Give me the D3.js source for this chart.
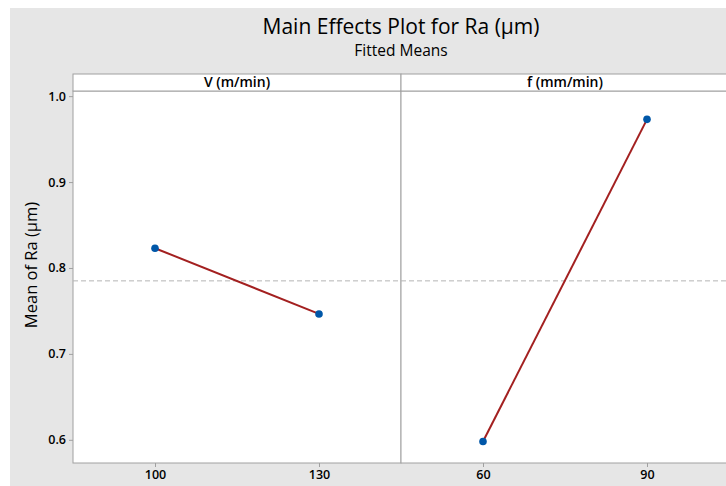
<!DOCTYPE html>
<html lang="en">
  <head>
    <meta charset="UTF-8" />
    <title>Main Effects Plot for Ra</title>
    <style>
      body {
        margin: 0;
        padding: 0;
        background-color: #ffffff;
      }
      svg {
        display: block;
        font-family: "Open Sans", "Noto Sans", sans-serif;
      }
    </style>
  </head>
  <body>
    <div id="plot"></div>

    <script src="https://d3js.org/d3.v7.min.js"></script>
    <script>
      // factors and their fitted means
      const factors = ["V (m/min)", "f (mm/min)"];
      const levels = [
        ["100", "130"],
        ["60", "90"],
      ];
      const means = [
        [0.823, 0.7465],
        [0.598, 0.973],
      ];
      const grandMean = 0.785;
      const yTicks = [0.6, 0.7, 0.8, 0.9, 1.0];

      const width = 726,
        height = 486;
      const plotLeft = 73,
        plotTop = 91,
        plotBottom = 463,
        stripH = 17,
        panelW = 328;

      const svg = d3
        .select("#plot")
        .append("svg")
        .attr("width", width)
        .attr("height", height);

      svg
        .append("rect")
        .attr("x", 10)
        .attr("y", 8)
        .attr("width", width)
        .attr("height", height)
        .style("fill", "#e6e6e6");

      svg
        .append("text")
        .attr("x", 401)
        .attr("y", 34)
        .attr("text-anchor", "middle")
        .style("font-size", "21px")
        .style("fill", "#000")
        .text("Main Effects Plot for Ra (μm)");

      svg
        .append("text")
        .attr("x", 401)
        .attr("y", 56)
        .attr("text-anchor", "middle")
        .style("font-size", "15.5px")
        .style("fill", "#000")
        .text("Fitted Means");

      const yScale = d3
        .scaleLinear()
        .domain([0.573, 1.006])
        .range([plotBottom, plotTop]);

      // y axis
      const yAxis = svg
        .append("g")
        .attr("transform", `translate(${plotLeft},0)`)
        .call(
          d3
            .axisLeft(yScale)
            .tickValues(yTicks)
            .tickFormat(d3.format(".1f"))
            .tickSize(4)
            .tickPadding(3)
        );
      yAxis.select(".domain").remove();
      yAxis.selectAll("line").style("stroke", "#a0a0a0");
      yAxis
        .selectAll("text")
        .style("font-size", "12.5px")
        .style("font-weight", 600)
        .style("fill", "#000")
        .style("font-family", "'Open Sans', sans-serif");

      svg
        .append("text")
        .attr(
          "transform",
          `translate(37,${(plotTop + plotBottom) / 2 - 12}) rotate(-90)`
        )
        .attr("text-anchor", "middle")
        .style("font-size", "16.5px")
        .style("fill", "#000")
        .text("Mean of Ra (μm)");

      factors.forEach((name, i) => {
        const x0 = plotLeft + i * panelW;
        const xScale = d3
          .scalePoint()
          .domain(levels[i])
          .range([x0 + panelW / 4, x0 + (panelW * 3) / 4]);

        // panel background
        svg
          .append("rect")
          .attr("x", x0)
          .attr("y", plotTop)
          .attr("width", panelW)
          .attr("height", plotBottom - plotTop)
          .style("fill", "#ffffff")
          .style("stroke", "#a0a0a0");

        // strip
        svg
          .append("rect")
          .attr("x", x0)
          .attr("y", plotTop - stripH)
          .attr("width", panelW)
          .attr("height", stripH)
          .style("fill", "#ffffff")
          .style("stroke", "#a0a0a0");

        svg
          .append("text")
          .attr("x", x0 + panelW / 2)
          .attr("y", plotTop - 4)
          .attr("text-anchor", "middle")
          .style("font-size", "14px")
          .style("font-weight", 600)
          .style("fill", "#000")
          .text(name);

        // reference line at grand mean
        svg
          .append("line")
          .attr("x1", x0)
          .attr("x2", x0 + panelW)
          .attr("y1", yScale(grandMean))
          .attr("y2", yScale(grandMean))
          .style("stroke", "#b4b4b4")
          .style("stroke-dasharray", "5,3");

        // x axis
        const xAxis = svg
          .append("g")
          .attr("transform", `translate(0,${plotBottom})`)
          .call(d3.axisBottom(xScale).tickSize(4).tickPadding(3));
        xAxis.select(".domain").remove();
        xAxis.selectAll("line").style("stroke", "#a0a0a0");
        xAxis
          .selectAll("text")
          .style("font-size", "12.5px")
          .style("font-weight", 600)
          .style("fill", "#000")
          .style("font-family", "'Open Sans', sans-serif");

        const pts = levels[i].map((l, j) => [xScale(l), yScale(means[i][j])]);

        svg
          .append("path")
          .attr("d", d3.line()(pts))
          .style("fill", "none")
          .style("stroke", "#a32020")
          .style("stroke-width", 2);

        svg
          .selectAll(null)
          .data(pts)
          .enter()
          .append("circle")
          .attr("cx", (d) => d[0])
          .attr("cy", (d) => d[1])
          .attr("r", 3.8)
          .style("fill", "#0057a8");
      });
    </script>
  </body>
</html>
